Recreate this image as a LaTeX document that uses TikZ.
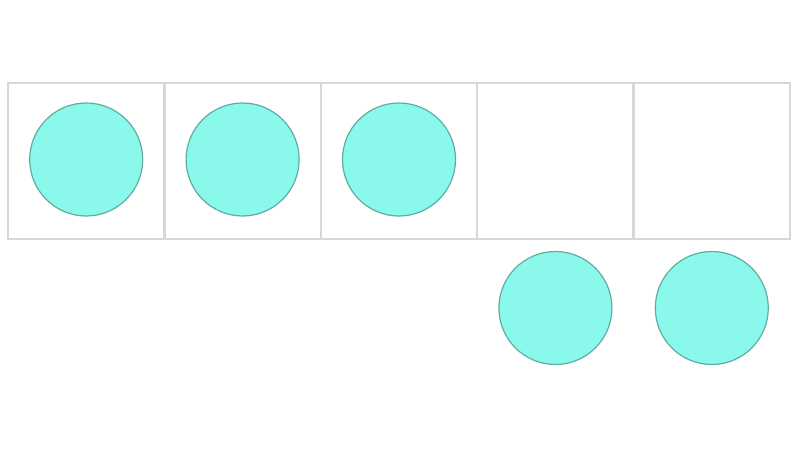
\documentclass[tikz,border=0pt]{standalone}
\definecolor{gridline}{HTML}{D5D8DA}
\definecolor{dotfill}{HTML}{8AF9EC}
\definecolor{dotline}{HTML}{5EADA2}
\begin{document}
\begin{tikzpicture}[x=1pt,y=-1pt,
  cellbox/.style={draw=gridline,line width=2.5pt,minimum width=156.4pt,minimum height=156pt,inner sep=0pt,outer sep=0pt},
  dot/.style={circle,draw=dotline,fill=dotfill,line width=1.2pt,minimum size=113pt,inner sep=0pt}]
\useasboundingbox (0,0) rectangle (800,450);
\foreach \i in {1,...,5}{
  \node[cellbox] (c\i) at ({8+156.4*(\i-0.5)},161) {};
}
\node[dot] (d1) at ([yshift=1.5pt]c1.center) {};
\node[dot] (d2) at ([yshift=1.5pt]c2.center) {};
\node[dot] (d3) at ([yshift=1.5pt]c3.center) {};
\node[dot] (d4) at ([yshift=-147pt]c4.center) {};
\node[dot] (d5) at ([yshift=-147pt]c5.center) {};
\end{tikzpicture}
\end{document}
